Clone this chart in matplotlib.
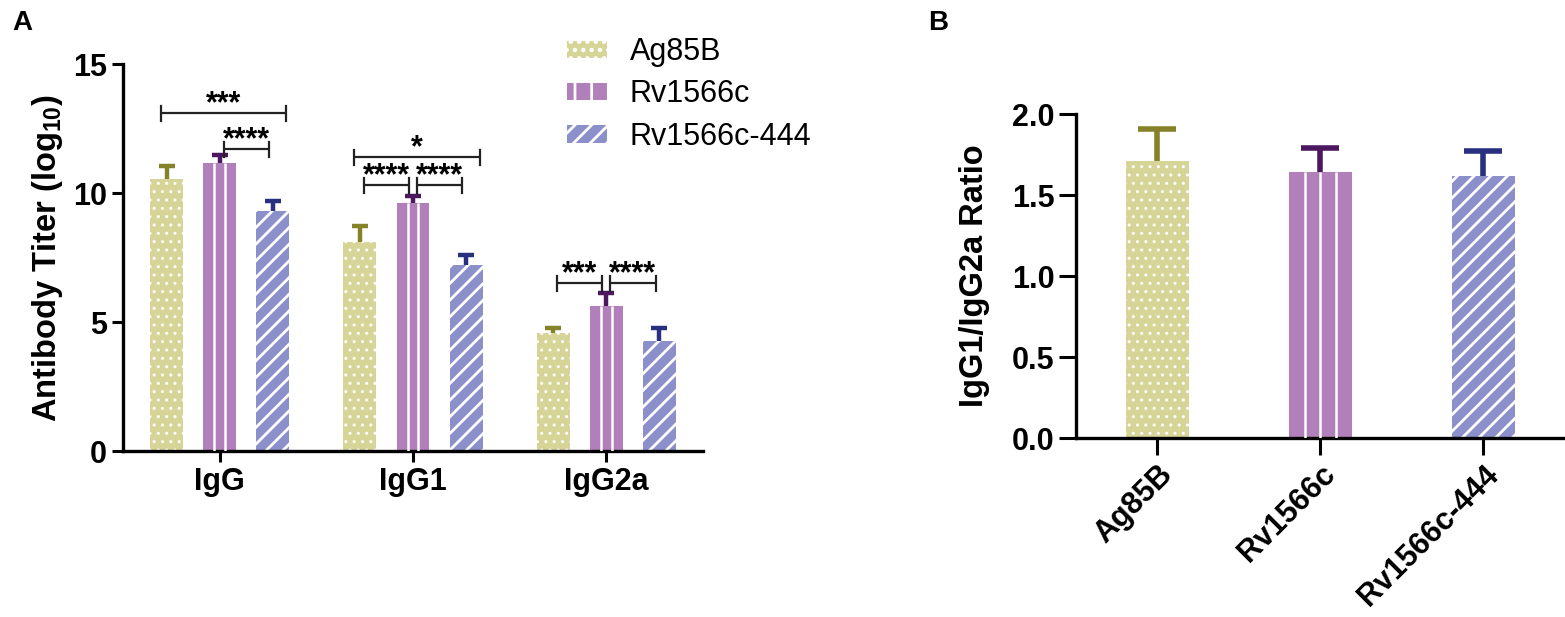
import matplotlib
matplotlib.use('Agg')
import matplotlib.pyplot as plt
from matplotlib.patches import Patch
import numpy as np

plt.rcParams['font.family'] = ['Liberation Sans', 'DejaVu Sans']
plt.rcParams['mathtext.fontset'] = 'custom'
plt.rcParams['mathtext.rm'] = 'Liberation Sans'
plt.rcParams['mathtext.bf'] = 'Liberation Sans:bold'
plt.rcParams['hatch.linewidth'] = 2.0

# data
groups = ['IgG', 'IgG1', 'IgG2a']
vaccines = ['Ag85B', 'Rv1566c', 'Rv1566c-444']

ag85b_titer = [10.55, 8.10, 4.57]
ag85b_err = [0.50, 0.62, 0.20]
rv1566c_titer = [11.16, 9.60, 5.62]
rv1566c_err = [0.31, 0.28, 0.50]
rv444_titer = [9.30, 7.21, 4.26]
rv444_err = [0.39, 0.39, 0.51]

ratio = [1.71, 1.64, 1.62]
ratio_err = [0.20, 0.15, 0.15]

# significance brackets: (group, bar i, bar j, height, label)
brackets = [
    (0, 0, 2, 13.1, '***'),
    (0, 1, 2, 11.7, '****'),
    (1, 0, 2, 11.4, '*'),
    (1, 0, 1, 10.3, '****'),
    (1, 1, 2, 10.3, '****'),
    (2, 0, 1, 6.5, '***'),
    (2, 1, 2, 6.5, '****'),
]

fills = ['#d6d597', '#b17fb9', '#8b8fca']
errcols = ['#858229', '#4b175f', '#28307f']
hatches = ['..', None, '//']
hatch_lw = [1.0, 2.0, 2.0]


def draw_bars(ax, xs, ys, es, k, width, cap, nseg):
    eb = ax.errorbar(xs, ys, yerr=[np.zeros(len(ys)), es], fmt='none',
                     ecolor=errcols[k], elinewidth=cap[0], capsize=cap[1],
                     capthick=cap[0], zorder=1)
    # hide the lower caps that sit on the bar tops
    eb[1][0].set_visible(False)
    with plt.rc_context({'hatch.linewidth': hatch_lw[k]}):
        bars = ax.bar(xs, ys, width=width, color=fills[k], edgecolor='white',
                      linewidth=0, hatch=hatches[k], zorder=2)
    if k == 1:
        # vertical white stripes of the Rv1566c pattern
        for p in bars.patches:
            for s in range(1, nseg):
                xx = p.get_x() + p.get_width() * s / nseg
                ax.plot([xx, xx], [0, p.get_height()], color='white', lw=1.8,
                        solid_capstyle='butt', zorder=3)
    return bars


fig = plt.figure(figsize=(15.65, 6.17), dpi=100)
axA = fig.add_axes([0.0786, 0.269, 0.3706, 0.627])
axB = fig.add_axes([0.6875, 0.290, 0.3125, 0.525])

titers = [ag85b_titer, rv1566c_titer, rv444_titer]
errs = [ag85b_err, rv1566c_err, rv444_err]
x = np.arange(len(groups))
offs = [-0.275, 0.0, 0.275]
for k in range(3):
    draw_bars(axA, x + offs[k], titers[k], errs[k], k, 0.17, (3.2, 6), 3)

for g, i, j, h, lab in brackets:
    x1 = g + offs[i]
    x2 = g + offs[j]
    if j - i == 1:
        x1 += 0.02
        x2 -= 0.02
    else:
        x1 -= 0.03
        x2 += 0.07
    axA.plot([x1, x2], [h, h], color='#222222', lw=1.6, solid_capstyle='butt')
    for xx in (x1, x2):
        axA.plot([xx, xx], [h - 0.3, h + 0.28], color='#222222', lw=1.6)
    axA.text((x1 + x2) / 2, h + 0.04, lab, ha='center', va='baseline',
             fontsize=22, fontweight='bold')

axA.set_xlim(-0.5, 2.5)
axA.set_ylim(0, 15)
axA.set_yticks([0, 5, 10, 15])
axA.set_xticks(x)
axA.set_xticklabels(groups)
axA.set_ylabel(r'Antibody Titer (log$\mathbf{_{10}}$)', fontsize=23.5,
               fontweight='bold', labelpad=6)

xb = np.arange(len(vaccines))
for k in range(3):
    draw_bars(axB, xb[k:k + 1], ratio[k:k + 1], ratio_err[k:k + 1], k, 0.39,
              (4, 14), 4)
axB.set_xlim(-0.5, 2.5)
axB.set_ylim(0, 2.0)
axB.set_yticks([0, 0.5, 1.0, 1.5, 2.0])
axB.set_yticklabels(['0.0', '0.5', '1.0', '1.5', '2.0'])
axB.set_xticks(xb)
axB.set_xticklabels(vaccines, rotation=45, ha='right', rotation_mode='anchor')
axB.set_ylabel('IgG1/IgG2a Ratio', fontsize=23.5, fontweight='bold',
               labelpad=16)

for ax, tl in ((axA, 8), (axB, 12)):
    for s in ('top', 'right'):
        ax.spines[s].set_visible(False)
    for s in ('left', 'bottom'):
        ax.spines[s].set_linewidth(2.4)
    ax.tick_params(width=2.2, length=tl, labelsize=22, direction='out')
    for t in ax.get_xticklabels() + ax.get_yticklabels():
        t.set_fontweight('bold')

handles = [Patch(facecolor=fills[0], edgecolor='white', linewidth=0, hatch='..'),
           Patch(facecolor=fills[1], edgecolor='white', linewidth=0, hatch='|'),
           Patch(facecolor=fills[2], edgecolor='white', linewidth=0, hatch='//')]
axA.legend(handles, vaccines, loc='upper left',
           bbox_to_anchor=(555 / 1565, 1 - 25 / 617),
           bbox_transform=fig.transFigure, frameon=False, fontsize=22,
           borderaxespad=0, handlelength=1.3, handleheight=0.5,
           handletextpad=0.75, labelspacing=0.4)

fig.text(12 / 1565, 1 - 10 / 617, 'A', fontsize=20, fontweight='bold', va='top')
fig.text(928 / 1565, 1 - 10 / 617, 'B', fontsize=20, fontweight='bold', va='top')

fig.savefig('out.png', dpi=100)
